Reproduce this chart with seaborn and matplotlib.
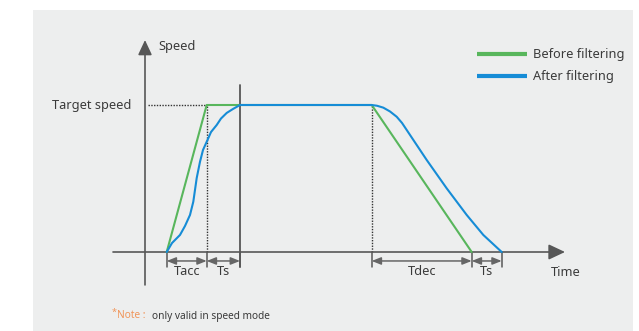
import numpy as np
import pandas as pd
import matplotlib
matplotlib.use("Agg")
import matplotlib.pyplot as plt
from matplotlib.patches import Rectangle
import seaborn as sns

# ---- data (time in arbitrary units, speed relative to target speed) ----
before_time = [2.17, 6.17, 22.67, 32.67]
before_speed = [0.0, 1.0, 1.0, 0.0]

after_time = [2.17, 2.7, 3.5, 4.0, 4.5, 4.83, 5.17, 5.5, 5.8, 6.17, 6.6, 7.17, 7.6, 8.17, 8.8, 9.5,
              22.67, 23.2, 23.83, 24.5, 25.17, 25.7, 26.17, 28.17, 30.17, 32.17, 33.83, 35.67]
after_speed = [0.0, 0.061, 0.116, 0.177, 0.252, 0.342, 0.503, 0.614, 0.694, 0.750, 0.816,
               0.864, 0.908, 0.946, 0.973, 1.0,
               1.0, 0.995, 0.982, 0.956, 0.920, 0.878, 0.830, 0.626, 0.433, 0.252, 0.116, 0.0]

series_names = ["Before filtering", "After filtering"]
t_acc_start, t_acc_end, t_s1_end = 2.17, 6.17, 9.5
t_dec_start, t_dec_end, t_s2_end = 22.67, 32.67, 35.67
target_speed = 1.0

GREEN = "#58b65c"
BLUE = "#168cd6"
AXIS = "#575757"
BG = "#edeeee"

df = pd.DataFrame({
    "time": before_time + after_time,
    "speed": before_speed + after_speed,
    "series": [series_names[0]] * len(before_time) + [series_names[1]] * len(after_time),
})

sns.set_theme(style="white")
plt.rcParams["font.family"] = ["Noto Sans", "DejaVu Sans"]

W, H = 639, 331
fig = plt.figure(figsize=(W / 100, H / 100), dpi=100, facecolor="white")
fig.patches.append(Rectangle((33 / W, 0), 600 / W, 321 / H, transform=fig.transFigure,
                             facecolor=BG, edgecolor="none", zorder=-5))
ax = fig.add_axes([0, 0, 1, 1])
ax.patch.set_visible(False)
ax.set_axis_off()
ax.set_xlim(-14.5, 49.4)
ax.set_ylim((252 - 331) / 147, 252 / 147)

# dotted guide lines
dot = dict(color="#333333", lw=1.0, linestyle=(0, (1, 1)), zorder=2)
ax.plot([0.3, t_acc_end], [target_speed, target_speed], **dot)
ax.plot([t_acc_end, t_acc_end], [0, target_speed], **dot)
ax.plot([t_dec_start, t_dec_start], [0, target_speed], **dot)

# solid vertical at end of Ts
ax.plot([t_s1_end, t_s1_end], [1.136, -0.102], color=AXIS, lw=1.3, zorder=2)

# axes with arrows
ax.annotate("", xy=(0, 1.442), xytext=(0, -0.224),
            arrowprops=dict(arrowstyle="-|>,head_length=0.9,head_width=0.42", mutation_scale=10,
                            color=AXIS, lw=1.2, shrinkA=0, shrinkB=0), zorder=2)
ax.annotate("", xy=(42.0, 0), xytext=(-3.2, 0),
            arrowprops=dict(arrowstyle="-|>,head_length=1.0,head_width=0.47", mutation_scale=10,
                            color=AXIS, lw=1.2, shrinkA=0, shrinkB=0), zorder=2)

# curves
sns.lineplot(data=df, x="time", y="speed", hue="series", hue_order=series_names,
             palette=[GREEN, BLUE], estimator=None, sort=False, ax=ax, zorder=3,
             legend=True)
for line, lw in zip(ax.get_lines()[-2:], [2.7, 3.1]):
    line.set_linewidth(lw)
    line.set_solid_capstyle("butt")
    line.set_solid_joinstyle("round")

# dimension ticks and arrows
for tx in [t_acc_start, t_acc_end, t_s1_end, t_dec_start, t_dec_end, t_s2_end]:
    ax.plot([tx, tx], [0, -0.102], color=AXIS, lw=1.1, zorder=2)
ya = -0.061
for a, b in [(t_acc_start, t_acc_end), (t_acc_end, t_s1_end),
             (t_dec_start, t_dec_end), (t_dec_end, t_s2_end)]:
    ax.annotate("", xy=(b, ya), xytext=(a, ya),
                arrowprops=dict(arrowstyle="<|-|>,head_length=0.55,head_width=0.22", mutation_scale=10,
                                color="#666666", lw=1.1, shrinkA=0, shrinkB=0), zorder=2)

txt = dict(color="#3a3a3a", fontsize=9.2)
ax.text(1.3, 1.401, "Speed", ha="left", va="center", **txt)
ax.text(-1.4, target_speed, "Target speed", ha="right", va="center", **txt)
ax.text(42.05, -0.141, "Time", ha="center", va="center", **txt)
ax.text((t_acc_start + t_acc_end) / 2, -0.134, "Tacc", ha="center", va="center", **txt)
ax.text((t_acc_end + t_s1_end) / 2, -0.134, "Ts", ha="center", va="center", **txt)
ax.text((t_dec_start + t_dec_end) / 2, -0.134, "Tdec", ha="center", va="center", **txt)
ax.text((t_dec_end + t_s2_end) / 2, -0.134, "Ts", ha="center", va="center", **txt)

# note
fig.text(112 / W, 1 - 308 / H, "*", color="#f0955a", fontsize=6.5, ha="left", va="top")
fig.text(117 / W, 1 - 316 / H, "Note :", color="#f0955a", fontsize=7.3, ha="left", va="center")
fig.text(152 / W, 1 - 316 / H, "only valid in speed mode", color="#3a3a3a", fontsize=7.3,
         ha="left", va="center")

leg = ax.legend(loc="upper left", bbox_to_anchor=(467 / W, 1 - 38 / H), bbox_transform=fig.transFigure,
                frameon=False, fontsize=9.2, handlelength=3.9, handletextpad=0.45,
                labelspacing=0.7, borderpad=0.3, title=None)
for t in leg.get_texts():
    t.set_color("#3a3a3a")
for h in leg.get_lines():
    h.set_linewidth(3.0)

fig.savefig("out.png", dpi=100, facecolor="white")
